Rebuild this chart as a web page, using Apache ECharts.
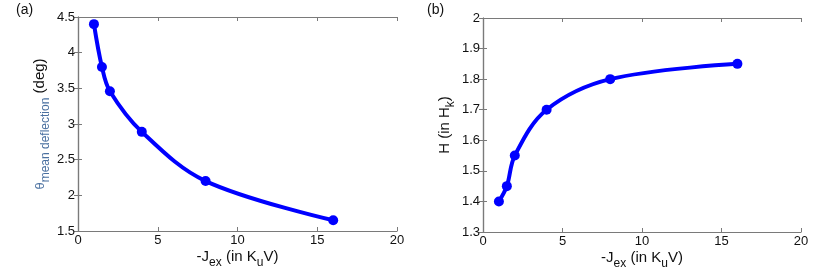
<!DOCTYPE html>
<html><head><meta charset="utf-8">
<script src="https://cdn.jsdelivr.net/npm/echarts@6/dist/echarts.min.js"></script>
<style>html,body{margin:0;padding:0;background:#fff}#c{width:830px;height:276px}</style>
</head><body><div id="c"></div>
<script>
const jexA = [1, 1.5, 2, 4, 8, 16];
const thetaA = [4.4, 3.8, 3.46, 2.89, 2.2, 1.65];
const jexB = [1, 1.5, 2, 4, 8, 16];
const hB = [1.4, 1.45, 1.55, 1.70, 1.80, 1.85];

const FONT = 'Liberation Sans';
const chart = echarts.init(document.getElementById('c'));
const lblStyle = {color:'#111', fontSize:13, fontFamily:FONT};
const AXC = '#7a7a7a';
const axLine = {lineStyle:{color:AXC, width:1.2}};
const tick = {inside:true, length:4, lineStyle:{color:AXC}};
function xAx(grid, name){
  return [{
    type:'value', gridIndex:grid, min:0, max:20, interval:5,
    axisLine:axLine, axisTick:tick, splitLine:{show:false},
    axisLabel:Object.assign({margin:3}, lblStyle),
    name:name, nameLocation:'middle', nameGap:26, nameMoveOverlap:false,
    nameTextStyle:{color:'#111', fontSize:15, fontFamily:FONT, verticalAlign:'middle',
      rich:{n:{fontSize:15, color:'#111', fontFamily:FONT},
            sub:{fontSize:12, color:'#111', fontFamily:FONT, padding:[11,0,0,0]}}}
  },{
    type:'value', gridIndex:grid, position:'top', min:0, max:20, interval:5,
    axisLine:axLine, axisTick:tick, splitLine:{show:false}, axisLabel:{show:false}
  }];
}
function yAx(grid, min, max, interval, name, gap, rich, fmt){
  return [{
    type:'value', gridIndex:grid, min:min, max:max, interval:interval,
    axisLine:{show:true, lineStyle:{color:AXC, width:1.2}}, axisTick:tick, splitLine:{show:false},
    axisLabel:Object.assign({margin:3, formatter:fmt}, lblStyle),
    name:name, nameLocation:'middle', nameGap:gap, nameRotate:90, nameMoveOverlap:false,
    nameTextStyle:{color:'#111', fontSize:15, fontFamily:FONT, verticalAlign:'middle', rich:rich}
  },{
    type:'value', gridIndex:grid, position:'right', min:min, max:max, interval:interval,
    axisLine:{show:true, lineStyle:{color:AXC, width:1.2}}, axisTick:tick, splitLine:{show:false}, axisLabel:{show:false}
  }];
}
const xName = '{n|-J}{sub|ex}{n| (in K}{sub|u}{n|V)}';
const richA = {
  th:{color:'#4a70a0', fontSize:13, fontFamily:FONT},
  sub:{color:'#4a70a0', fontSize:12, fontFamily:FONT, padding:[11,0,0,0]},
  n:{color:'#111', fontSize:15, fontFamily:FONT}
};
const richB = {
  n:{color:'#111', fontSize:15, fontFamily:FONT},
  sub:{color:'#111', fontSize:12, fontFamily:FONT, padding:[11,0,0,0]}
};
const fmt = v => { const r = Math.round(v*10)/10; return r.toString(); };

const seriesStyle = {color:'#0000ff'};
chart.setOption({
  animation:false,
  grid:[
    {left:78, top:17, width:319, height:214, outerBoundsMode:'none'},
    {left:483, top:18, width:318, height:214, outerBoundsMode:'none'}
  ],
  xAxis:[].concat(xAx(0, xName), xAx(1, xName)),
  yAxis:[].concat(
    yAx(0, 1.5, 4.5, 0.5, '{th|θ}{sub|mean deflection}{n| (deg)}', 38, richA, fmt),
    yAx(1, 1.3, 2.0, 0.1, '{n|H (in H}{sub|k}{n|)}', 38, richB, fmt)
  ),
  graphic:[
    {type:'text', left:16, top:3, style:{text:'(a)', fontSize:14, fontFamily:FONT, fill:'#111'}},
    {type:'text', left:427, top:3, style:{text:'(b)', fontSize:14, fontFamily:FONT, fill:'#111'}}
  ],
  series:[
    {type:'line', xAxisIndex:0, yAxisIndex:0, data:jexA.map((x,i)=>[x,thetaA[i]]),
     smooth:0.35, symbol:'circle', symbolSize:10,
     lineStyle:{color:'#0000ff', width:4}, itemStyle:seriesStyle},
    {type:'line', xAxisIndex:2, yAxisIndex:2, data:jexB.map((x,i)=>[x,hB[i]]),
     smooth:0.35, symbol:'circle', symbolSize:10,
     lineStyle:{color:'#0000ff', width:4}, itemStyle:seriesStyle}
  ]
});
</script></body></html>
